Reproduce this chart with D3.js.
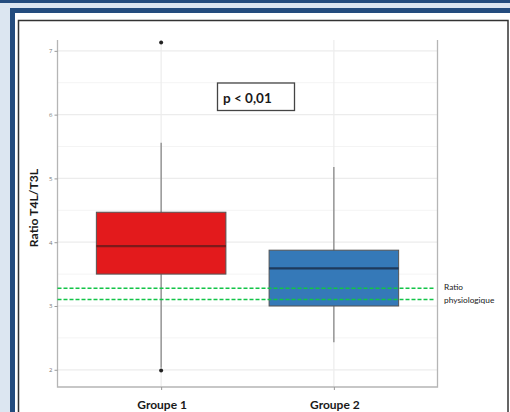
<!DOCTYPE html>
<html lang="fr">
<head>
  <meta charset="UTF-8">
  <title>Ratio T4L/T3L</title>
  <script src="https://d3js.org/d3.v7.min.js"></script>
  <style>
    body { margin: 0; background: #dce6f1; }
    svg { display: block; }
    .tick-label { font-family: "Open Sans", sans-serif; font-size: 6px; fill: #777; }
    .bold { font-family: Lato, "Open Sans", sans-serif; font-weight: bold; fill: #1a1a1a; }
    .legend { font-family: Lato, "Open Sans", sans-serif; font-size: 8.3px; fill: #1a1a1a; }
  </style>
</head>
<body>
  <div id="chart"></div>
  <script>
    // box plot values
    const groups = ["Groupe 1", "Groupe 2"];
    const whiskerLow = [2.03, 2.43];
    const q1 = [3.5, 3.0];
    const median = [3.94, 3.59];
    const q3 = [4.47, 3.875];
    const whiskerHigh = [5.56, 5.18];
    const outliers = [
      { group: "Groupe 1", value: 7.13 },
      { group: "Groupe 1", value: 1.99 }
    ];
    const boxColors = ["#e31a1c", "#3579b8"];
    const medianColors = ["#7d1a1a", "#1e3a5c"];
    const physioRange = [3.10, 3.28];
    const yTicks = [2, 3, 4, 5, 6, 7];
    const yMinor = [2.5, 3.5, 4.5, 5.5, 6.5];

    const W = 510, H = 412;
    const panel = { left: 57.5, right: 437.5, top: 40, bottom: 387 };

    const svg = d3.select("#chart").append("svg")
      .attr("width", W)
      .attr("height", H);

    // slide frame
    svg.append("rect").attr("x", 0).attr("y", 0).attr("width", W).attr("height", H).attr("fill", "#dce6f1");
    svg.append("rect").attr("x", 0).attr("y", 0).attr("width", W).attr("height", 3).attr("fill", "#244c7e");
    svg.append("rect").attr("x", 10).attr("y", 8).attr("width", 510).attr("height", 420).attr("fill", "#244c7e");
    svg.append("rect").attr("x", 15).attr("y", 13).attr("width", 500).attr("height", 420).attr("fill", "#fff");
    svg.append("rect").attr("x", 18.5).attr("y", 20.5).attr("width", 489.5).attr("height", 420)
      .attr("fill", "none").attr("stroke", "#333").attr("stroke-width", 1.5);

    const x = d3.scalePoint()
      .domain(groups)
      .range([panel.left, panel.right])
      .padding(0.6);
    const step = x.step();
    const boxW = step * 0.75;

    const y = d3.scaleLinear()
      .domain([1.73, 7.17])
      .range([panel.bottom, panel.top]);

    // grid
    const g = svg.append("g");
    g.selectAll(".minor").data(yMinor).enter().append("line")
      .attr("x1", panel.left).attr("x2", panel.right)
      .attr("y1", d => y(d)).attr("y2", d => y(d))
      .attr("stroke", "#f4f4f4").attr("stroke-width", 1);
    g.selectAll(".major").data(yTicks).enter().append("line")
      .attr("x1", panel.left).attr("x2", panel.right)
      .attr("y1", d => y(d)).attr("y2", d => y(d))
      .attr("stroke", "#ececec").attr("stroke-width", 1.2);
    g.selectAll(".vgrid").data(groups).enter().append("line")
      .attr("x1", d => x(d)).attr("x2", d => x(d))
      .attr("y1", panel.top).attr("y2", panel.bottom)
      .attr("stroke", "#ececec").attr("stroke-width", 1.2);

    // panel border (left, right, bottom)
    svg.append("path")
      .attr("d", `M${panel.left},${panel.top}V${panel.bottom}H${panel.right}V${panel.top}`)
      .attr("fill", "none").attr("stroke", "#b5b5b5").attr("stroke-width", 1.3);

    // y axis
    const yAxis = d3.axisLeft(y).tickValues(yTicks).tickSize(3).tickPadding(2).tickFormat(d3.format("d"));
    const ya = svg.append("g").attr("transform", `translate(${panel.left},0)`).call(yAxis);
    ya.select(".domain").remove();
    ya.selectAll(".tick line").attr("stroke", "#999");
    ya.selectAll(".tick text").attr("class", "tick-label").attr("fill", null);

    // x axis
    const xAxis = d3.axisBottom(x).tickSize(3).tickFormat("");
    const xa = svg.append("g").attr("transform", `translate(0,${panel.bottom})`).call(xAxis);
    xa.select(".domain").remove();
    xa.selectAll(".tick line").attr("stroke", "#999");
    svg.selectAll(".xlab").data(groups).enter().append("text")
      .attr("class", "bold")
      .attr("x", d => x(d) + 1)
      .attr("y", 408.5)
      .attr("text-anchor", "middle")
      .attr("font-size", 12)
      .text(d => d);

    // y label
    svg.append("text")
      .attr("class", "bold")
      .attr("transform", `translate(37.5,208) rotate(-90)`)
      .attr("text-anchor", "middle")
      .attr("font-size", 12.2)
      .text("Ratio T4L/T3L");

    // boxes
    const boxes = svg.selectAll(".box").data(groups).enter().append("g");
    boxes.append("line")
      .attr("x1", d => x(d)).attr("x2", d => x(d))
      .attr("y1", (d, i) => y(whiskerHigh[i])).attr("y2", (d, i) => y(whiskerLow[i]))
      .attr("stroke", "#888").attr("stroke-width", 1.3);
    boxes.append("rect")
      .attr("x", d => x(d) - boxW / 2)
      .attr("width", boxW)
      .attr("y", (d, i) => y(q3[i]))
      .attr("height", (d, i) => y(q1[i]) - y(q3[i]))
      .attr("fill", (d, i) => boxColors[i])
      .attr("stroke", "#555").attr("stroke-width", 1);
    boxes.append("line")
      .attr("x1", d => x(d) - boxW / 2).attr("x2", d => x(d) + boxW / 2)
      .attr("y1", (d, i) => y(median[i])).attr("y2", (d, i) => y(median[i]))
      .attr("stroke", (d, i) => medianColors[i]).attr("stroke-width", 2.2);

    svg.selectAll(".outlier").data(outliers).enter().append("circle")
      .attr("cx", d => x(d.group)).attr("cy", d => y(d.value))
      .attr("r", 2).attr("fill", "#222");

    // physiological ratio lines
    svg.selectAll(".physio").data(physioRange).enter().append("line")
      .attr("x1", panel.left).attr("x2", panel.right - 2)
      .attr("y1", d => y(d)).attr("y2", d => y(d))
      .attr("stroke", "#12c447").attr("stroke-width", 1.5)
      .attr("stroke-dasharray", "4,2");
    svg.append("text").attr("class", "legend").attr("x", 444).attr("y", 290).text("Ratio");
    svg.append("text").attr("class", "legend").attr("x", 444).attr("y", 303).text("physiologique");

    // p-value annotation
    svg.append("rect")
      .attr("x", 217.5).attr("y", 83).attr("width", 77).attr("height", 27.5)
      .attr("fill", "#fff").attr("stroke", "#444").attr("stroke-width", 1.3);
    svg.append("text")
      .attr("class", "bold")
      .attr("x", 223).attr("y", 102.5)
      .attr("font-size", 13.5)
      .text("p < 0,01");
  </script>
</body>
</html>
